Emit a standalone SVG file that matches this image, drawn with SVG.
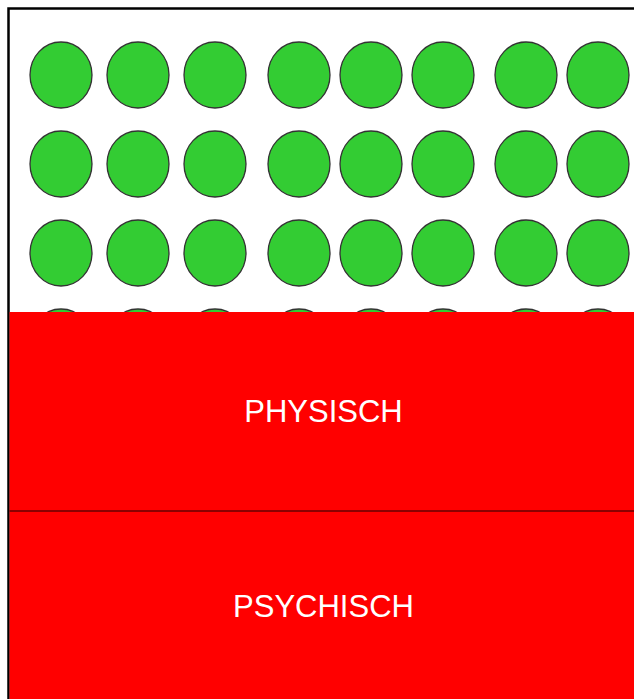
<svg xmlns="http://www.w3.org/2000/svg" width="634" height="699" viewBox="0 0 634 699">
<style>
.c{fill:#33cc33;stroke:#333;stroke-width:1.3}
.r{fill:#ff0000;stroke:none}
.t{fill:#fff;font-family:"Liberation Sans",Arial,sans-serif;font-size:31px;text-anchor:middle}
</style>
<defs>
<g id="row">
<ellipse class="c" cx="61" cy="0" rx="31" ry="33"/>
<ellipse class="c" cx="138" cy="0" rx="31" ry="33"/>
<ellipse class="c" cx="215" cy="0" rx="31" ry="33"/>
<ellipse class="c" cx="299" cy="0" rx="31" ry="33"/>
<ellipse class="c" cx="371" cy="0" rx="31" ry="33"/>
<ellipse class="c" cx="443" cy="0" rx="31" ry="33"/>
<ellipse class="c" cx="526" cy="0" rx="31" ry="33"/>
<ellipse class="c" cx="598" cy="0" rx="31" ry="33"/>
</g>
</defs>
<rect x="0" y="0" width="634" height="699" fill="#fff"/>
<g id="frame">
<rect x="8.5" y="8.5" width="640" height="700" fill="#fff" stroke="#000" stroke-width="2.5"/>
</g>
<g id="circles">
<use href="#row" y="75"/>
<use href="#row" y="164"/>
<use href="#row" y="253"/>
<use href="#row" y="342"/>
</g>
<g id="physisch">
<rect class="r" x="9.5" y="312" width="625" height="199"/>
<text class="t" x="323.5" y="422">PHYSISCH</text>
</g>
<g id="psychisch">
<rect class="r" x="9.5" y="511" width="625" height="188"/>
<text class="t" x="323.5" y="617">PSYCHISCH</text>
</g>
<g id="connectors">
<line x1="9.5" y1="511" x2="634" y2="511" stroke="#600" stroke-width="1.5"/>
</g>
</svg>
